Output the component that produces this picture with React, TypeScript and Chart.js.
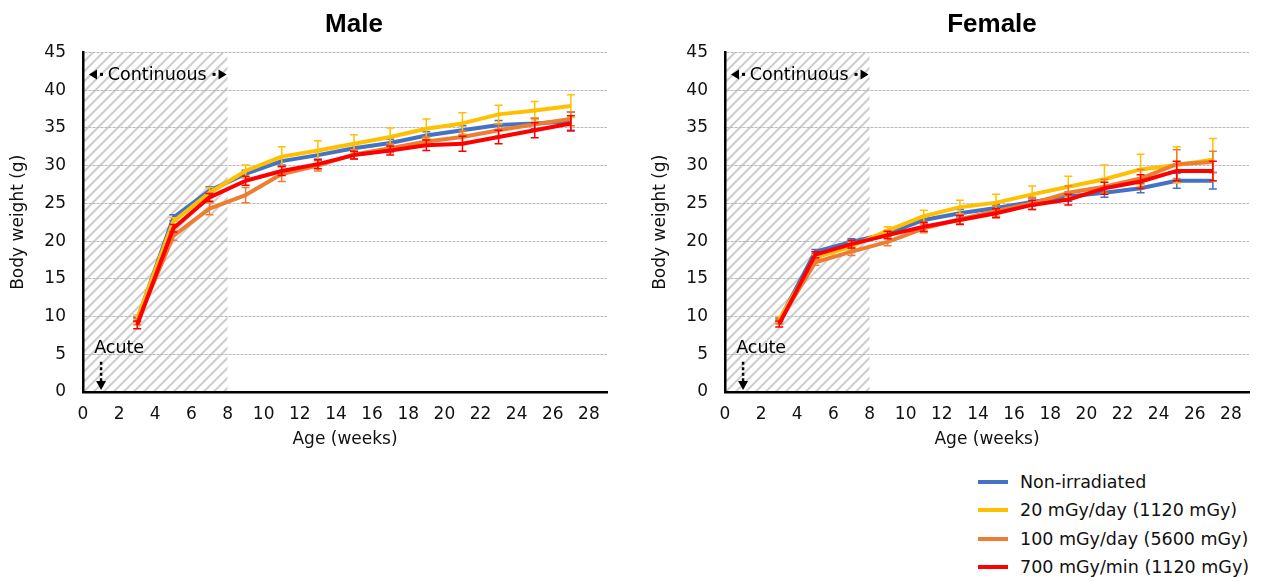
import React, { useEffect, useRef } from "react";
import { Chart, registerables } from "chart.js";

Chart.register(...registerables);

// ---- Data ----
const weeks = [3, 5, 7, 9, 11, 13, 15, 17, 19, 21, 23, 25, 27];
const seriesNames = [
  "Non-irradiated",
  "20 mGy/day (1120 mGy)",
  "100 mGy/day (5600 mGy)",
  "700 mGy/min (1120 mGy)",
];
const seriesColors = ["#4472C4", "#FFC000", "#ED7D31", "#FF0000"];

// Male means
const maleNonIrradiated = [9.6, 23.1, 26.7, 28.9, 30.6, 31.4, 32.3, 33.0, 34.0, 34.7, 35.4, 35.6, 35.9];
const male20 = [9.7, 22.6, 26.4, 29.3, 31.2, 32.0, 32.9, 33.8, 34.9, 35.6, 36.8, 37.3, 37.9];
const male100 = [9.3, 20.7, 24.3, 26.1, 28.9, 30.0, 31.5, 32.3, 33.2, 33.8, 34.7, 35.5, 36.2];
const male700 = [8.9, 21.7, 25.8, 28.0, 29.3, 30.2, 31.4, 32.0, 32.7, 32.9, 33.8, 34.7, 35.6];
// Male SD
const maleNonIrradiatedSd = [0.3, 0.4, 0.5, 0.5, 0.5, 0.5, 0.5, 0.5, 0.5, 0.6, 0.6, 0.7, 1.2];
const male20Sd = [0.5, 0.5, 0.7, 0.8, 1.3, 1.3, 1.2, 1.2, 1.3, 1.4, 1.2, 1.2, 1.5];
const male100Sd = [0.4, 0.6, 0.8, 1.0, 1.0, 0.7, 0.6, 0.6, 0.6, 0.8, 0.8, 0.8, 0.9];
const male700Sd = [0.5, 0.5, 0.5, 0.6, 0.6, 0.6, 0.5, 0.6, 0.7, 1.0, 0.9, 1.0, 1.0];

// Female means
const femaleNonIrradiated = [9.5, 18.6, 19.9, 21.0, 22.8, 23.7, 24.4, 25.2, 25.9, 26.4, 27.0, 28.0, 28.0];
const female20 = [9.6, 17.8, 19.3, 21.4, 23.3, 24.5, 25.1, 26.2, 27.2, 28.2, 29.5, 30.1, 30.8];
const female100 = [9.3, 17.2, 18.6, 19.9, 21.7, 22.9, 24.0, 25.0, 26.4, 27.2, 28.3, 30.2, 30.5];
const female700 = [9.0, 18.2, 19.6, 20.8, 21.9, 22.8, 23.7, 24.8, 25.5, 27.0, 27.9, 29.3, 29.3];
// Female SD
const femaleNonIrradiatedSd = [0.3, 0.3, 0.4, 0.4, 0.5, 0.5, 0.5, 0.5, 0.6, 0.6, 0.6, 1.0, 1.1];
const female20Sd = [0.4, 0.4, 0.5, 0.5, 0.8, 0.9, 1.1, 1.1, 1.4, 1.9, 2.0, 2.4, 2.8];
const female100Sd = [0.3, 0.4, 0.5, 0.5, 0.6, 0.6, 0.7, 0.8, 0.9, 1.0, 1.2, 1.9, 1.4];
const female700Sd = [0.4, 0.4, 0.5, 0.5, 0.6, 0.6, 0.6, 0.6, 0.7, 0.8, 0.9, 1.3, 1.3];

// Axis settings
const xMin = 0;
const xMax = 29;
const xTickValues = [0, 2, 4, 6, 8, 10, 12, 14, 16, 18, 20, 22, 24, 26, 28];
const yMin = 0;
const yMax = 45;
const yStep = 5;

// Annotations (data units)
const hatchFrom = 0;
const hatchTo = 8;
const continuousLabel = "Continuous";
const continuousY = 42.1;
const acuteLabel = "Acute";
const acuteLabelPos = { x: 2.0, y: 5.8 };
const acuteArrowX = 1;
const acuteArrowFrom = 4.0;
const acuteArrowTo = 0.25;

const FONT = "'DejaVu Sans', sans-serif";

type PanelProps = {
  title: string;
  means: number[][];
  sds: number[][];
  left: number;
  width: number;
  height: number;
  yAxisWidth: number;
  padRight: number;
  yTitlePad: number;
  titleDx: number;
};

function makePlugin(title: string, sds: number[][], titleDx: number) {
  return {
    id: "customDecor",
    beforeDraw(chart: any) {
      const { ctx, chartArea, scales } = chart;
      const xs = scales.x;
      const x0 = xs.getPixelForValue(hatchFrom);
      const x1 = xs.getPixelForValue(hatchTo);
      const top = chartArea.top;
      const bottom = chartArea.bottom;
      const h = bottom - top;
      ctx.save();
      ctx.beginPath();
      ctx.rect(x0, top, x1 - x0, h);
      ctx.clip();
      ctx.strokeStyle = "#cdcdcd";
      ctx.lineWidth = 2;
      ctx.beginPath();
      for (let s = x0 - h; s < x1 + h; s += 10) {
        ctx.moveTo(s, bottom);
        ctx.lineTo(s + h, top);
      }
      ctx.stroke();
      ctx.restore();
    },
    beforeDatasetDraw(chart: any, args: any) {
      const { ctx, scales } = chart;
      const i = args.index;
      const ds = chart.data.datasets[i];
      const sd = sds[i];
      ctx.save();
      ctx.strokeStyle = ds.borderColor;
      ctx.lineWidth = 1.5;
      ds.data.forEach((p: any, j: number) => {
        const x = scales.x.getPixelForValue(p.x);
        const yt = scales.y.getPixelForValue(p.y + sd[j]);
        const yb = scales.y.getPixelForValue(p.y - sd[j]);
        ctx.beginPath();
        ctx.moveTo(x, yt);
        ctx.lineTo(x, yb);
        ctx.moveTo(x - 4, yt);
        ctx.lineTo(x + 4, yt);
        ctx.moveTo(x - 4, yb);
        ctx.lineTo(x + 4, yb);
        ctx.stroke();
      });
      ctx.restore();
    },
    afterDraw(chart: any) {
      const { ctx, chartArea, scales } = chart;
      const xs = scales.x;
      const ys = scales.y;
      ctx.save();
      // Title
      ctx.fillStyle = "#000";
      ctx.font = "bold 26px 'Liberation Sans', Arial, sans-serif";
      ctx.textAlign = "center";
      ctx.textBaseline = "middle";
      ctx.fillText(title, (chartArea.left + chartArea.right) / 2 + titleDx, 25);

      // Continuous label
      const x0 = xs.getPixelForValue(hatchFrom);
      const x1 = xs.getPixelForValue(hatchTo);
      const cy = ys.getPixelForValue(continuousY);
      ctx.font = `17.5px ${FONT}`;
      ctx.fillText(continuousLabel, (x0 + x1) / 2 + 2, cy + 1);
      ctx.beginPath();
      ctx.moveTo(x0 + 6, cy);
      ctx.lineTo(x0 + 14, cy - 5);
      ctx.lineTo(x0 + 14, cy + 5);
      ctx.closePath();
      ctx.moveTo(x1 - 1, cy);
      ctx.lineTo(x1 - 9, cy - 5);
      ctx.lineTo(x1 - 9, cy + 5);
      ctx.closePath();
      ctx.fill();
      ctx.fillRect(x0 + 17, cy - 1.5, 3, 3);
      ctx.fillRect(x1 - 15, cy - 1.5, 3, 3);

      // Acute label + dotted arrow
      ctx.fillText(acuteLabel, xs.getPixelForValue(acuteLabelPos.x), ys.getPixelForValue(acuteLabelPos.y));
      const ax = xs.getPixelForValue(acuteArrowX);
      const ay0 = ys.getPixelForValue(acuteArrowFrom);
      const ay1 = ys.getPixelForValue(acuteArrowTo);
      ctx.strokeStyle = "#000";
      ctx.lineWidth = 2.5;
      ctx.setLineDash([3, 2.5]);
      ctx.beginPath();
      ctx.moveTo(ax, ay0);
      ctx.lineTo(ax, ay1 - 8);
      ctx.stroke();
      ctx.setLineDash([]);
      ctx.beginPath();
      ctx.moveTo(ax - 5, ay1 - 9);
      ctx.lineTo(ax + 5, ay1 - 9);
      ctx.lineTo(ax, ay1);
      ctx.closePath();
      ctx.fill();
      ctx.restore();
    },
  };
}

function Panel(props: PanelProps) {
  const ref = useRef<HTMLCanvasElement | null>(null);
  useEffect(() => {
    const canvas = ref.current!;
    const tickFont = { family: FONT, size: 17 };
    const chart = new Chart(canvas, {
      type: "line",
      data: {
        datasets: seriesNames.map((name, i) => ({
          label: name,
          data: weeks.map((w, j) => ({ x: w, y: props.means[i][j] })),
          borderColor: seriesColors[i],
          backgroundColor: seriesColors[i],
          borderWidth: 4,
          pointRadius: 0,
          pointHoverRadius: 0,
          fill: false,
          tension: 0,
          borderJoinStyle: "round" as const,
          order: seriesNames.length - 1 - i,
        })),
      },
      options: {
        animation: false,
        responsive: false,
        maintainAspectRatio: false,
        devicePixelRatio: 1,
        layout: { padding: { top: 52.5, right: props.padRight, bottom: 0, left: 0 } },
        plugins: { legend: { display: false }, tooltip: { enabled: false }, title: { display: false } },
        scales: {
          x: {
            type: "linear",
            min: xMin,
            max: xMax,
            bounds: "data",
            afterBuildTicks: (s: any) => {
              s.ticks = xTickValues.map((v) => ({ value: v }));
            },
            ticks: {
              autoSkip: false,
              maxRotation: 0,
              font: tickFont,
              color: "#111",
              padding: 12,
            },
            grid: { display: false, drawTicks: false },
            border: { display: true, color: "#000", width: 2.5 },
            title: {
              display: true,
              text: "Age (weeks)",
              font: tickFont,
              color: "#111",
              padding: { top: 0, bottom: 10 },
            },
            afterFit: (s: any) => {
              s.height = 68;
            },
          },
          y: {
            type: "linear",
            min: yMin,
            max: yMax,
            ticks: { stepSize: yStep, font: tickFont, color: "#111", padding: 17 },
            grid: { color: "#b8b8b8", lineWidth: 1, drawTicks: false },
            border: { display: true, color: "#000", width: 2.5, dash: [3, 1] },
            title: {
              display: true,
              text: "Body weight (g)",
              font: tickFont,
              color: "#111",
              padding: { top: props.yTitlePad, bottom: 0 },
            },
            afterFit: (s: any) => {
              s.width = props.yAxisWidth;
            },
          },
        },
      } as any,
      plugins: [makePlugin(props.title, props.sds, props.titleDx)],
    });
    return () => chart.destroy();
  }, []);
  return (
    <canvas
      ref={ref}
      width={props.width}
      height={props.height}
      style={{ position: "absolute", left: props.left, top: 0, width: props.width, height: props.height }}
    />
  );
}

function Legend() {
  return (
    <div style={{ position: "absolute", left: 978, top: 468 }}>
      {seriesNames.map((name, i) => (
        <div key={name} style={{ display: "flex", alignItems: "center", height: 28.3 }}>
          <div style={{ width: 30, height: 4, background: seriesColors[i], marginRight: 12 }} />
          <span style={{ font: `17.5px ${FONT}`, color: "#111", whiteSpace: "nowrap" }}>{name}</span>
        </div>
      ))}
    </div>
  );
}

export default function App() {
  return (
    <div style={{ position: "absolute", left: 0, top: 0, width: 1261, height: 581, background: "#fff" }}>
      <Panel
        title="Male"
        means={[maleNonIrradiated, male20, male100, male700]}
        sds={[maleNonIrradiatedSd, male20Sd, male100Sd, male700Sd]}
        left={0}
        width={640}
        height={460}
        yAxisWidth={83}
        padRight={33}
        yTitlePad={8}
        titleDx={9}
      />
      <Panel
        title="Female"
        means={[femaleNonIrradiated, female20, female100, female700]}
        sds={[femaleNonIrradiatedSd, female20Sd, female100Sd, female700Sd]}
        left={640}
        width={621}
        height={460}
        yAxisWidth={85}
        padRight={12}
        yTitlePad={10}
        titleDx={5}
      />
      <Legend />
    </div>
  );
}
